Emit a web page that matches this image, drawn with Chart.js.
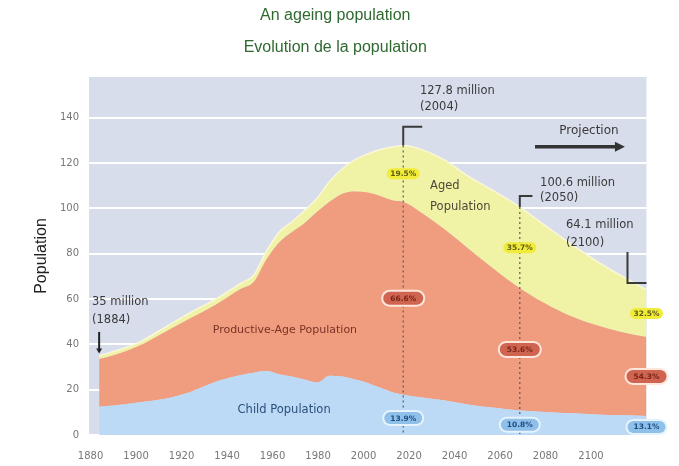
<!DOCTYPE html>
<html>
<head>
<meta charset="utf-8">
<title>An ageing population</title>
<script src="https://cdn.jsdelivr.net/npm/chart.js@4.4.1/dist/chart.umd.min.js"></script>
<style>
  body { margin: 0; background: #fff; }
  #chartPop { display: block; }
</style>
</head>
<body>
<canvas id="chartPop" width="679" height="466"></canvas>
<script>
// population of Japan in millions, by age group
var years = [1884, 1890, 1900, 1910, 1920, 1930, 1940, 1945, 1950, 1955, 1960, 1965, 1970, 1975, 1980,
  1985, 1990, 1995, 2000, 2004, 2010, 2020, 2030, 2040, 2050, 2060, 2070, 2080, 2090, 2100];
var childPop = [12.5, 13, 14.5, 16, 19, 23.5, 26.5, 27.5, 28.2, 26.8, 25.8, 24.5, 23.2, 26.2, 25.8,
  24.5, 23, 20.8, 18.8, 17.8, 16.8, 15.3, 13.4, 12.0, 10.84, 10.2, 9.6, 9.1, 8.7, 8.42];
var workPop = [21.0, 22.3, 25.0, 29.5, 32.5, 34.0, 38.0, 40.0, 49.3, 58.2, 63.7, 69.0, 75.3, 76.8, 80.7,
  83.0, 84.0, 84.7, 84.7, 85.1, 82.2, 75.7, 68.6, 61.0, 53.88, 47.8, 42.9, 39.4, 36.8, 34.83];
var agedPop = [1.5, 1.7, 1.5, 2.0, 2.5, 2.5, 2.5, 3.0, 3.5, 4.5, 4.5, 5.5, 6.0, 9.0, 11.0,
  14.0, 17.0, 20.5, 23.7, 24.9, 27.5, 30.5, 32.0, 34.5, 35.88, 34.5, 32.0, 28.5, 24.8, 20.85];

var tickYears = [1880, 1900, 1920, 1940, 1960, 1980, 2000, 2020, 2040, 2060, 2080, 2100];
var firstYear = 1884;
var markYears = [2004, 2050, 2100];

function points(arr) {
  return years.map(function (yr, i) { return { x: yr, y: arr[i] }; });
}
function idx(yr) { return years.indexOf(yr); }
function total(i) { return childPop[i] + workPop[i] + agedPop[i]; }
function pct(v, i) { return (v / total(i) * 100).toFixed(1) + '%'; }

var annoFont = '"DejaVu Sans", sans-serif';

function pill(ctx, x, y, w, h, text, fill, halo, color) {
  ctx.save();
  if (halo) {
    ctx.beginPath();
    ctx.roundRect(x - w / 2 - 2, y - h / 2 - 2, w + 4, h + 4, (h + 4) / 2);
    ctx.fillStyle = halo;
    ctx.fill();
  }
  ctx.beginPath();
  ctx.roundRect(x - w / 2, y - h / 2, w, h, h / 2);
  ctx.fillStyle = fill;
  ctx.fill();
  ctx.fillStyle = color;
  ctx.font = 'bold 7.5px ' + annoFont;
  ctx.textAlign = 'center';
  ctx.textBaseline = 'middle';
  ctx.fillText(text, x, y + 0.5);
  ctx.restore();
}

function text(ctx, str, x, y, size, color, align) {
  ctx.save();
  ctx.font = size + 'px ' + annoFont;
  ctx.fillStyle = color;
  ctx.textAlign = align || 'left';
  ctx.textBaseline = 'middle';
  ctx.fillText(str, x, y);
  ctx.restore();
}

function line(ctx, pts, width, color, dash) {
  ctx.save();
  ctx.beginPath();
  ctx.moveTo(pts[0][0], pts[0][1]);
  for (var k = 1; k < pts.length; k++) ctx.lineTo(pts[k][0], pts[k][1]);
  ctx.lineWidth = width;
  ctx.strokeStyle = color;
  if (dash) ctx.setLineDash(dash);
  ctx.stroke();
  ctx.restore();
}

var notes = {
  id: 'notes',
  beforeDraw: function (chart) {
    var a = chart.chartArea, ctx = chart.ctx;
    ctx.save();
    ctx.fillStyle = '#d8ddec';
    ctx.fillRect(a.left, a.top, a.right - a.left, a.bottom - a.top);
    ctx.restore();
  },
  afterDatasetsDraw: function (chart) {
    var ctx = chart.ctx, xs = chart.scales.x, ys = chart.scales.y;
    function px(yr) { return xs.getPixelForValue(yr); }
    function py(v) { return ys.getPixelForValue(v); }
    var dark = '#3a3a3a';

    // dotted year markers
    [2004, 2050].forEach(function (yr) {
      var i = idx(yr);
      line(ctx, [[px(yr), py(total(i))], [px(yr), py(0)]], 1.2, '#5a5a5a', [2, 3]);
    });

    // brackets to the total labels
    var i04 = idx(2004), i50 = idx(2050), i00 = idx(2100), i84 = idx(firstYear);
    line(ctx, [[px(2011.5), py(136)], [px(2004), py(136)], [px(2004), py(total(i04))]], 2, dark);
    line(ctx, [[px(2055), py(105.5)], [px(2050), py(105.5)], [px(2050), py(total(i50))]], 2, dark);
    line(ctx, [[px(2092.5), py(80.8)], [px(2092.5), py(67.1)], [px(2100), py(67.1)]], 2, dark);

    // arrow down to the 1884 total
    var ax = px(firstYear), ayEnd = py(total(i84) + 1);
    line(ctx, [[ax, py(45.5)], [ax, ayEnd - 4]], 2, '#222');
    ctx.save();
    ctx.fillStyle = '#222';
    ctx.beginPath();
    ctx.moveTo(ax - 3, ayEnd - 5);
    ctx.lineTo(ax + 3, ayEnd - 5);
    ctx.lineTo(ax, ayEnd);
    ctx.closePath();
    ctx.fill();
    ctx.restore();

    // projection arrow
    var pa = px(2056), pb = px(2091.5), pyA = py(127.2);
    line(ctx, [[pa, pyA], [pb - 8, pyA]], 3.5, '#333');
    ctx.save();
    ctx.fillStyle = '#333';
    ctx.beginPath();
    ctx.moveTo(pb - 10, pyA - 5);
    ctx.lineTo(pb, pyA);
    ctx.lineTo(pb - 10, pyA + 5);
    ctx.closePath();
    ctx.fill();
    ctx.restore();
    text(ctx, 'Projection', px(2077.3), py(134.2), 12, dark, 'center');

    // total labels
    function millions(i) { return +total(i).toFixed(1) + ' million'; }
    text(ctx, millions(i84), px(1881.2), py(58.7), 11.5, dark);
    text(ctx, '(' + firstYear + ')', px(1881.2), py(50.8), 11.5, dark);
    text(ctx, millions(i04), px(2010.6), py(151.9), 11.5, dark);
    text(ctx, '(2004)', px(2010.6), py(144.8), 11.5, dark);
    text(ctx, millions(i50), px(2058), py(111.3), 11.5, dark);
    text(ctx, '(2050)', px(2058), py(104.6), 11.5, dark);
    text(ctx, millions(i00), px(2068.2), py(92.7), 11.5, dark);
    text(ctx, '(2100)', px(2068.2), py(84.8), 11.5, dark);

    // area names
    text(ctx, 'Aged', px(2014.6), py(109.9), 11.5, '#4a4a3a');
    text(ctx, 'Population', px(2014.6), py(100.7), 11.5, '#4a4a3a');
    text(ctx, 'Productive-Age Population', px(1957.3), py(46.4), 11, '#7b3326', 'center');
    text(ctx, 'Child Population', px(1957), py(11), 11.5, '#2c4f7c', 'center');

    // shares for the marked years
    markYears.forEach(function (yr) {
      var i = idx(yr), x = px(yr);
      var c = childPop[i], w = workPop[i], a = agedPop[i];
      pill(ctx, x, py(c + w + a / 2), 33, 11, pct(a, i), '#f1ec3a', null, '#5d5a12');
      pill(ctx, x, py(c + w / 2), 40, 13, pct(w, i), '#cf6450', '#fde6dc', '#7a2416');
      pill(ctx, x, py(c * 0.42), 38, 12, pct(c, i), '#8fc0ea', '#e6f3fd', '#1f4c82');
    });
  }
};

var ctx1 = document.getElementById('chartPop').getContext('2d');
var chart1 = new Chart(ctx1, {
  type: 'line',
  data: {
    datasets: [{
      label: 'Child Population',
      data: points(childPop),
      backgroundColor: '#bcdaf5',
      borderWidth: 0,
      fill: 'origin'
    }, {
      label: 'Productive-Age Population',
      data: points(workPop),
      backgroundColor: '#f09c7e',
      borderWidth: 0,
      fill: '-1'
    }, {
      label: 'Aged Population',
      data: points(agedPop),
      backgroundColor: '#f0f2a6',
      borderColor: '#fbf7d8',
      borderWidth: 1.5,
      fill: '-1'
    }]
  },
  options: {
    responsive: false,
    devicePixelRatio: 1,
    animation: false,
    layout: { padding: { left: 24, right: 32.5, top: 0, bottom: 0 } },
    elements: {
      point: { radius: 0 },
      line: { cubicInterpolationMode: 'monotone' }
    },
    scales: {
      x: { type: 'linear', min: 1880, max: 2100, display: false },
      xYears: {
        type: 'linear',
        position: 'bottom',
        min: 1879.3,
        max: 2124.4,
        afterBuildTicks: function (scale) {
          scale.ticks = tickYears.map(function (v) { return { value: v }; });
        },
        afterFit: function (scale) { scale.height = 31; },
        grid: { display: false },
        border: { display: false },
        ticks: {
          padding: 7,
          color: '#777',
          font: { family: 'DejaVu Sans', size: 10 },
          maxRotation: 0,
          autoSkip: false,
          callback: function (v) { return String(v); }
        }
      },
      y: {
        stacked: true,
        min: 0,
        max: 158,
        afterFit: function (scale) { scale.width = 65; },
        afterBuildTicks: function (scale) {
          scale.ticks = scale.ticks.filter(function (t) { return t.value % 20 === 0; });
        },
        border: { display: false },
        grid: { color: '#ffffff', lineWidth: 2, drawTicks: false },
        ticks: {
          stepSize: 20,
          padding: 10,
          color: '#777',
          font: { family: 'DejaVu Sans', size: 10 }
        },
        title: {
          display: true,
          text: 'Population',
          color: '#222',
          padding: { top: 8.4, bottom: 4 },
          font: { family: 'Liberation Sans', size: 16 }
        }
      }
    },
    plugins: {
      legend: { display: false },
      tooltip: { enabled: false },
      title: {
        display: true,
        text: 'An ageing population',
        color: '#2e6930',
        padding: { top: 6, bottom: 6 },
        font: { family: 'Liberation Sans', size: 16, weight: 'normal' }
      },
      subtitle: {
        display: true,
        text: 'Evolution de la population',
        color: '#2e6930',
        padding: { top: 7, bottom: 19.6 },
        font: { family: 'Liberation Sans', size: 16 }
      }
    }
  },
  plugins: [notes]
});
</script>
</body>
</html>
